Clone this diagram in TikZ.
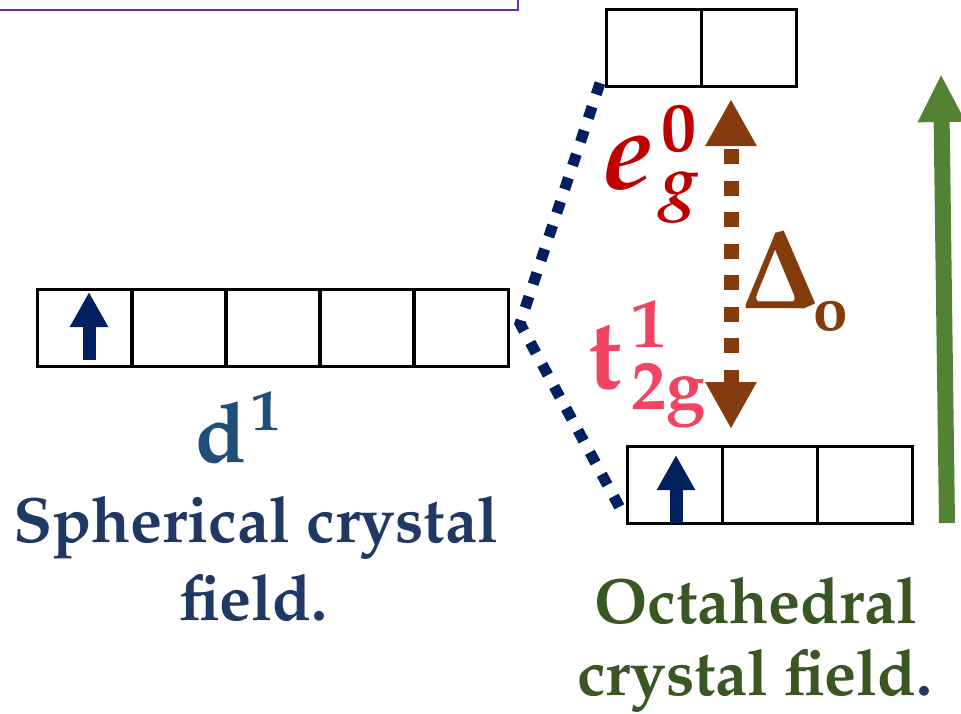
\documentclass[tikz,border=0pt]{standalone}
\usepackage[T1]{fontenc}
\usepackage{mathpazo}
\usetikzlibrary{arrows.meta,calc,positioning}

\definecolor{navy}{HTML}{002060}
\definecolor{frameviolet}{HTML}{7030A0}
\definecolor{gapbrown}{HTML}{843C0C}
\definecolor{fieldgreen}{HTML}{548235}
\definecolor{egred}{HTML}{C00000}
\definecolor{tgpink}{HTML}{F04462}
\definecolor{dblue}{HTML}{1F4E79}
\definecolor{sphnavy}{HTML}{203864}
\definecolor{octgreen}{HTML}{385723}

% small raised / lowered indices in text
\newcommand{\upidx}[2]{\rlap{\raisebox{#1}{\fontsize{70}{72}\selectfont #2}}}
\newcommand{\dnidx}[2]{\raisebox{#1}{\fontsize{70}{72}\selectfont #2}}

\begin{document}
\begin{tikzpicture}[
    x=1pt, y=-1pt,
    orb/.style    = {draw, line width=3pt, minimum width=95pt,
                     minimum height=77pt, inner sep=0pt, outer sep=0pt},
    spin/.style   = {navy, line width=13pt,
                     -{Triangle[width=36pt,length=35pt]}},
    split/.style  = {navy, line width=11pt, dash pattern=on 12pt off 13pt},
    gap/.style    = {gapbrown, line width=15pt, dash pattern=on 15pt off 16.5pt,
                     {Triangle[width=48pt,length=47pt]}-{Triangle[width=48pt,length=47pt]}},
    energy/.style = {fieldgreen, line width=16pt,
                     -{Triangle[width=44pt,length=48pt]}},
    lbl/.style    = {inner sep=0pt, outer sep=0pt},
    big/.style    = {lbl, font=\fontsize{64}{74}\selectfont\bfseries}
  ]

  \useasboundingbox (0,0) rectangle (961,713);

  % frame of the box above
  \draw[frameviolet, line width=2.5pt] (-5,10) -- (518,10) -- (518,-5);

  % spherical field: five d orbitals
  \foreach \i in {1,...,5} {
    \node[orb] (sph\i) at ({37+47.5+94*(\i-1)},327.5) {};
  }

  % octahedral field
  \node[orb] (eg1) at (653.5,47.5) {};
  \node[orb, right=0pt of eg1] (eg2) {};
  \node[orb] (tg1) at (674.5,484.5) {};
  \node[orb, right=0pt of tg1] (tg2) {};
  \node[orb, right=0pt of tg2] (tg3) {};

  % electrons
  \draw[spin] ([xshift=4.5pt,yshift=6pt]sph1.south) -- ([xshift=4.5pt,yshift=-3pt]sph1.north);
  \draw[spin] ([xshift=1.5pt]tg1.south) -- ([xshift=1.5pt,yshift=-9pt]tg1.north);

  % splitting lines
  \coordinate (fork) at ([xshift=12pt,yshift=4pt]sph5.east);
  \draw[split] ([xshift=-6pt,yshift=3pt]eg1.south west) -- (fork)
               -- ([xshift=-7pt,yshift=15pt]tg1.south west);

  % gap and energy
  \coordinate (gapTop) at (731,99);
  \coordinate (gapBot) at (731,429);
  \draw[gap] (gapBot) -- (gapTop);

  \coordinate (enBot) at (947,523);
  \coordinate (enTop) at (941,74);
  \draw[energy] (enBot) -- (enTop);

  % labels
  \node[lbl, anchor=base west, text=egred,
        font=\fontsize{112}{120}\selectfont\bfseries] (egLbl) at (603,188)
    {\itshape e\kern9pt\upidx{37pt}{\upshape 0}\dnidx{-16pt}{g}};
  \node[lbl, anchor=base west, text=tgpink,
        font=\fontsize{100}{110}\selectfont\bfseries] (tgLbl) at (588,388)
    {t\kern10pt\upidx{41pt}{1}\dnidx{-21pt}{2g}};
  \node[lbl, anchor=base west, text=gapbrown,
        font=\fontsize{113}{120}\selectfont] (gapLbl) at (741,308)
    {$\mathbf{\Delta}$\kern-6pt\raisebox{-22pt}{\fontsize{62}{64}\selectfont\bfseries o}};
  \node[lbl, anchor=base, text=dblue,
        font=\fontsize{84}{100}\selectfont\bfseries] (dLbl) at (238,462)
    {d\kern4pt\raisebox{32pt}{\fontsize{58}{60}\selectfont 1}};

  \node[big, anchor=base, text=sphnavy] (sphA) at (256,542) {Spherical crystal};
  \node[big, anchor=base, text=sphnavy] (sphB) at (254,620) {field.};

  \node[big, anchor=base, text=octgreen] (octA) at (756,623) {Octahedral};
  \node[big, anchor=base, text=octgreen] (octB) at (755,695) {crystal field\textcolor{sphnavy}{.}};

\end{tikzpicture}
\end{document}
